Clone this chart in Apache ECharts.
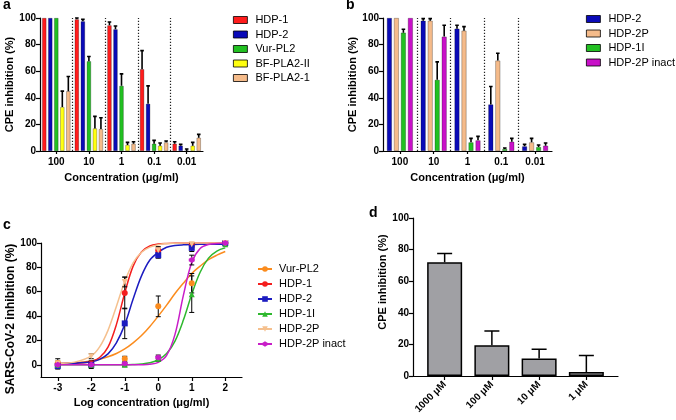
<!DOCTYPE html>
<html><head><meta charset="utf-8">
<script src="https://cdn.jsdelivr.net/npm/echarts@6/dist/echarts.min.js"></script>
<style>html,body{margin:0;padding:0;background:#fff;}.p{position:absolute;left:0;top:0;width:676px;height:420px;}</style>
</head><body>
<div id="ca" class="p"></div><div id="cb" class="p"></div><div id="cc" class="p"></div><div id="cd" class="p"></div>
<script>
// ---------- DATA ----------
const concCats = ['100', '10', '1', '0.1', '0.01'];
// panel a
const aNames = ['HDP-1', 'HDP-2', 'Vur-PL2', 'BF-PLA2-II', 'BF-PLA2-1'];
const aHDP1 = [100, 99, 94.5, 61.5, 5.5];
const aHDP1Err = [0, 1, 2.5, 14, 1.5];
const aHDP2 = [100, 97.5, 91.5, 35.5, 4];
const aHDP2Err = [0, 1.5, 2.5, 13.5, 1];
const aVur = [100, 67.5, 49, 5.5, 0];
const aVurErr = [0, 3.5, 9, 2.5, 1.5];
const aBF2 = [33, 17, 4.5, 4, 4];
const aBF2Err = [12, 9, 2, 2, 2.5];
const aBF1 = [45, 16.5, 5.5, 6.5, 10];
const aBF1Err = [11, 8.5, 1.5, 1, 2.5];
// panel b
const bNames = ['HDP-2', 'HDP-2P', 'HDP-1I', 'HDP-2P inact'];
const bHDP2 = [100, 98, 92, 35, 3.5];
const bHDP2Err = [0, 1.5, 2.5, 13.5, 1.5];
const bHDP2P = [100, 98, 90.5, 68, 6.5];
const bHDP2PErr = [0, 1.5, 3, 5.5, 3];
const bHDP1I = [89, 53.5, 6.5, 1.5, 3];
const bHDP1IErr = [2.5, 13.5, 3, 0.8, 1.5];
const bInact = [100, 86, 8, 7, 4];
const bInactErr = [0, 8.5, 3, 2.5, 2];
// panel c (points)
const cNames = ['Vur-PL2', 'HDP-1', 'HDP-2', 'HDP-1I', 'HDP-2P', 'HDP-2P inact'];
const cX = [-3, -2, -1, 0, 1, 2];
const cXTicks = [-3, -2, -1, 0, 1, 2];
const cYTicks = [0, 20, 40, 60, 80, 100];
const cVur = [1.5, 0, 5, 48, 67, 100];
const cVurErr = [3.5, 3, 2, 8.5, 8, 1];
const cHDP1 = [0, 1, 59, 94, 98, 100];
const cHDP1Err = [2, 2, 13, 3, 1.5, 1];
const cHDP2 = [-1, 0, 34, 90, 96, 100];
const cHDP2Err = [2.5, 2, 12.5, 2.5, 3, 1];
const cHDP1I = [0, 0, 0, 5, 58, 99];
const cHDP1IErr = [1, 1, 1.5, 2, 15, 1];
const cHDP2P = [1, 7, 68, 94, 99, 100];
const cHDP2PErr = [2, 2, 4, 2, 1, 1];
const cInact = [0, 0, 1, 6, 86, 100];
const cInactErr = [1, 1, 1, 2, 4, 1];
// panel c (fitted curves)
const curveX = [-3, -2.5, -2, -1.75, -1.5, -1.25, -1, -0.75, -0.5, -0.25, 0, 0.25, 0.5, 0.75, 1, 1.25, 1.5, 1.75, 2];
const fitVur = [0.7, 1.6, 3.2, 4.6, 6.6, 9.3, 13, 18, 24, 31.5, 40, 49, 58.5, 67, 75, 81, 86.3, 90, 93];
const fitHDP1 = [1, 1.2, 2.7, 6, 14.5, 33, 59, 81, 92.7, 97.5, 99.1, 99.6, 99.9, 100, 100, 100, 100, 100, 100];
const fitHDP2 = [1, 1.3, 2.5, 4.5, 9, 18, 33, 54, 73, 86, 92.3, 96.5, 97.9, 98.5, 98.8, 99, 99, 99, 99];
const fitHDP1I = [0, 0, 0, 0, 0, 0.1, 0.1, 0.3, 0.7, 1.7, 4, 9.2, 19.5, 36.7, 58, 76, 87.6, 93.4, 96];
const fitHDP2P = [1.2, 2.2, 7.3, 14.7, 28.3, 47.9, 68.4, 83.7, 92.4, 96.6, 98.6, 99.5, 99.8, 100, 100, 100, 100, 100, 100];
const fitInact = [0, 0, 0, 0, 0, 0, 0, 0, 0.1, 0.5, 2, 7.7, 25, 57, 84, 95.4, 98.8, 99.6, 100];
// panel d
const dCats = ['1000 \u03bcM', '100 \u03bcM', '10 \u03bcM', '1 \u03bcM'];
const dPos = [0, 1, 2, 3];
const dVals = [72, 19.5, 11, 2.5];
const dErr = [5.5, 9, 6, 10.5];

// ---------- STYLE ----------
const FONT = 'Liberation Sans, Arial, Helvetica, sans-serif';
function lbl(extra) { return Object.assign({ fontFamily: FONT, fontWeight: 'bold', fontSize: 10, color: '#000' }, extra || {}); }
function axLine() { return { show: true, onZero: false, lineStyle: { color: '#000', width: 1.2 } }; }
function axTick(extra) { return Object.assign({ show: true, length: 4, lineStyle: { color: '#000', width: 1.2 } }, extra || {}); }
function nameStyle(size, extra) { return Object.assign({ fontFamily: FONT, fontWeight: 'bold', fontSize: size, color: '#000' }, extra || {}); }

function groupErr(values, errs, bw, gap) {
  const n = values.length;
  const data = [];
  values.forEach((arr, si) => arr.forEach((v, ci) => data.push([ci, v, errs[si][ci], si])));
  return {
    type: 'custom', name: 'err', z: 5, silent: true, data: data,
    encode: { x: 0, y: 1 },
    renderItem: function (params, api) {
      const ci = api.value(0), v = api.value(1), e = api.value(2), si = api.value(3);
      if (!e) return null;
      const p0 = api.coord([ci, v]);
      const p1 = api.coord([ci, v + e]);
      const x = p0[0] + (si - (n - 1) / 2) * bw * (1 + gap);
      return { type: 'polyline', shape: { points: [[x, p0[1]], [x, p1[1]], [x - 1.8, p1[1]], [x + 1.8, p1[1]]] },
        style: { stroke: '#000', lineWidth: 1.6, fill: null } };
    }
  };
}

function barPanel(el, names, values, errs, colors, grid, legendPos, label, labelLeft, bw, gap) {
  const chart = echarts.init(document.getElementById(el));
  const series = names.map((nm, i) => ({
    type: 'bar', name: nm, data: values[i], barWidth: bw, barGap: (gap * 100) + '%',
    itemStyle: { color: colors[i], borderColor: 'rgba(0,0,0,0.45)', borderWidth: 0.6 }, silent: true
  }));
  series.push(groupErr(values, errs, bw, gap));
  series.push({
    type: 'line', name: 'sep', xAxisIndex: 1, data: [[0, 0]], symbol: 'none', lineStyle: { opacity: 0 }, silent: true,
    markLine: { symbol: 'none', silent: true, label: { show: false },
      lineStyle: { color: '#222', width: 1.2, type: [1.2, 1.8] },
      data: [{ xAxis: 1 }, { xAxis: 2 }, { xAxis: 3 }, { xAxis: 4 }] }
  });
  chart.setOption({
    animation: false,
    title: { text: label, left: labelLeft, top: -2, padding: 0, textStyle: nameStyle(14) },
    legend: { data: names, orient: 'vertical', left: legendPos[0], top: legendPos[1], padding: 0, icon: 'rect',
      itemWidth: 14, itemHeight: 7, itemGap: 2.5,
      itemStyle: { borderColor: '#000', borderWidth: 0.8 },
      textStyle: { fontFamily: FONT, fontSize: 11, color: '#000', lineHeight: 12, padding: [0, 0, 0, 3] } },
    grid: grid,
    xAxis: [
      { type: 'category', data: concCats, axisLine: axLine(), axisTick: axTick({ alignWithLabel: true, length: 3 }),
        axisLabel: lbl({ margin: 6 }), splitLine: { show: false },
        name: 'Concentration (\u03bcg/ml)', nameLocation: 'middle', nameGap: 21, nameTextStyle: nameStyle(11) },
      { type: 'value', min: 0, max: 5, show: false, gridIndex: 0, axisLine: { onZero: false } }
    ],
    yAxis: { type: 'value', min: 0, max: 100, interval: 20, axisLine: axLine(), axisTick: axTick(), splitLine: { show: false },
      axisLabel: lbl({ margin: 4 }),
      name: 'CPE inhibition (%)', nameLocation: 'middle', nameGap: 25, nameTextStyle: nameStyle(11) },
    series: series
  });
}

barPanel('ca', aNames, [aHDP1, aHDP2, aVur, aBF2, aBF1], [aHDP1Err, aHDP2Err, aVurErr, aBF2Err, aBF1Err],
  ['#ff1c1c', '#0a0ab8', '#22c022', '#ffff10', '#f5bb8a'],
  { left: 40, top: 18, width: 163, height: 133 }, [233, 14], 'a', 3, 4.3, 0.4);

barPanel('cb', bNames, [bHDP2, bHDP2P, bHDP1I, bInact], [bHDP2Err, bHDP2PErr, bHDP1IErr, bInactErr],
  ['#0a0ab8', '#f5bb8a', '#22c022', '#c810c8'],
  { left: 383, top: 18, width: 169, height: 133 }, [586, 13], 'b', 346, 5, 0.4);

// ---------- panel c ----------
(function () {
  const chart = echarts.init(document.getElementById('cc'));
  const colors = ['#fb8c1e', '#f41e1e', '#1c1cc0', '#2eb82e', '#f5c08e', '#c81ec8'];
  const symbols = ['circle', 'circle', 'rect', 'triangle', 'path://M0,0 L10,0 L5,9 Z', 'path://M5,0 L10,3 L10,7 L5,10 L0,7 L0,3 Z'];
  const fits = [fitVur, fitHDP1, fitHDP2, fitHDP1I, fitHDP2P, fitInact];
  const pts = [cVur, cHDP1, cHDP2, cHDP1I, cHDP2P, cInact];
  const errs = [cVurErr, cHDP1Err, cHDP2Err, cHDP1IErr, cHDP2PErr, cInactErr];
  const series = [];
  cNames.forEach((nm, i) => {
    series.push({ type: 'line', name: nm, data: curveX.map((x, k) => [x, fits[i][k]]), smooth: 0.35,
      symbol: symbols[i], symbolSize: 6, showSymbol: false, silent: true, z: 2,
      lineStyle: { color: colors[i], width: 1.5 }, itemStyle: { color: colors[i] } });
  });
  const errData = [];
  cNames.forEach((nm, i) => cX.forEach((x, k) => errData.push([x, pts[i][k], errs[i][k]])));
  series.push({ type: 'custom', name: 'errc', z: 3, silent: true, data: errData, encode: { x: 0, y: 1 },
    renderItem: function (params, api) {
      const x = api.value(0), y = api.value(1), e = api.value(2);
      const a = api.coord([x, y - e]), b = api.coord([x, y + e]);
      return { type: 'path', shape: { pathData:
        'M' + a[0] + ',' + a[1] + 'L' + b[0] + ',' + b[1] +
        'M' + (a[0] - 2.5) + ',' + a[1] + 'L' + (a[0] + 2.5) + ',' + a[1] +
        'M' + (b[0] - 2.5) + ',' + b[1] + 'L' + (b[0] + 2.5) + ',' + b[1] },
        style: { stroke: '#000', lineWidth: 1, fill: null } };
    } });
  cNames.forEach((nm, i) => {
    series.push({ type: 'scatter', name: nm + ' pts', data: cX.map((x, k) => [x, pts[i][k]]), symbol: symbols[i],
      symbolSize: 6, z: 4, silent: true, itemStyle: { color: colors[i], opacity: 1 } });
  });
  chart.setOption({
    animation: false,
    title: { text: 'c', left: 3, top: 218, padding: 0, textStyle: nameStyle(14) },
    legend: { data: cNames, orient: 'vertical', left: 257, top: 263, padding: 0, itemWidth: 14, itemHeight: 7, itemGap: 3,
      textStyle: { fontFamily: FONT, fontSize: 11, color: '#000', lineHeight: 12, padding: [0, 0, 0, 2] } },
    grid: { left: 41, top: 243, width: 201, height: 134 },
    xAxis: { type: 'value', min: -3.5, max: 2.5, axisLine: axLine(), splitLine: { show: false },
      axisTick: axTick({ customValues: cXTicks }),
      axisLabel: lbl({ customValues: cXTicks, margin: 6 }),
      name: 'Log concentration (\u03bcg/ml)', nameLocation: 'middle', nameGap: 20, nameTextStyle: nameStyle(11) },
    yAxis: { type: 'value', min: -10, max: 100, axisLine: axLine(), splitLine: { show: false },
      axisTick: axTick({ customValues: cYTicks }),
      axisLabel: lbl({ customValues: cYTicks, margin: 4 }),
      name: 'SARS-CoV-2 inhibition (%)', nameLocation: 'middle', nameGap: 24,
      nameTextStyle: nameStyle(12, { padding: [0, 18, 0, 0] }) },
    series: series
  });
})();

// ---------- panel d ----------
(function () {
  const chart = echarts.init(document.getElementById('cd'));
  chart.setOption({
    animation: false,
    title: { text: 'd', left: 369, top: 206, padding: 0, textStyle: nameStyle(14) },
    grid: { left: 413, top: 218, width: 205, height: 158 },
    xAxis: { type: 'value', min: -0.67, max: 3.67, axisLine: axLine(), splitLine: { show: false },
      axisTick: axTick({ customValues: dPos }),
      axisLabel: lbl({ customValues: dPos, margin: 7, rotate: 45, formatter: v => dCats[Math.round(v)] }) },
    yAxis: { type: 'value', min: 0, max: 100, interval: 20, axisLine: axLine(), axisTick: axTick(), splitLine: { show: false },
      axisLabel: lbl({ margin: 4 }),
      name: 'CPE inhibition (%)', nameLocation: 'middle', nameGap: 25,
      nameTextStyle: nameStyle(11, { padding: [0, 0, 0, 30] }) },
    series: [
      { type: 'custom', name: 'errd', silent: true, z: 2, clip: true, data: dPos.map((p, i) => [p, dVals[i], dErr[i]]), encode: { x: 0, y: 1 },
        renderItem: function (params, api) {
          const a = api.coord([api.value(0), api.value(1)]), b = api.coord([api.value(0), api.value(1) + api.value(2)]);
          return { type: 'polyline', shape: { points: [[a[0], a[1]], [b[0], b[1]], [b[0] - 7.5, b[1]], [b[0] + 7.5, b[1]]] },
            style: { stroke: '#000', lineWidth: 1.5, fill: null } };
        } },
      { type: 'bar', name: 'dbar', data: dPos.map((p, i) => [p, dVals[i]]), barWidth: 35, silent: true, z: 3,
        itemStyle: { color: '#a0a0a4', borderColor: '#000', borderWidth: 1.5 } }
    ]
  });
})();
</script>
</body></html>
